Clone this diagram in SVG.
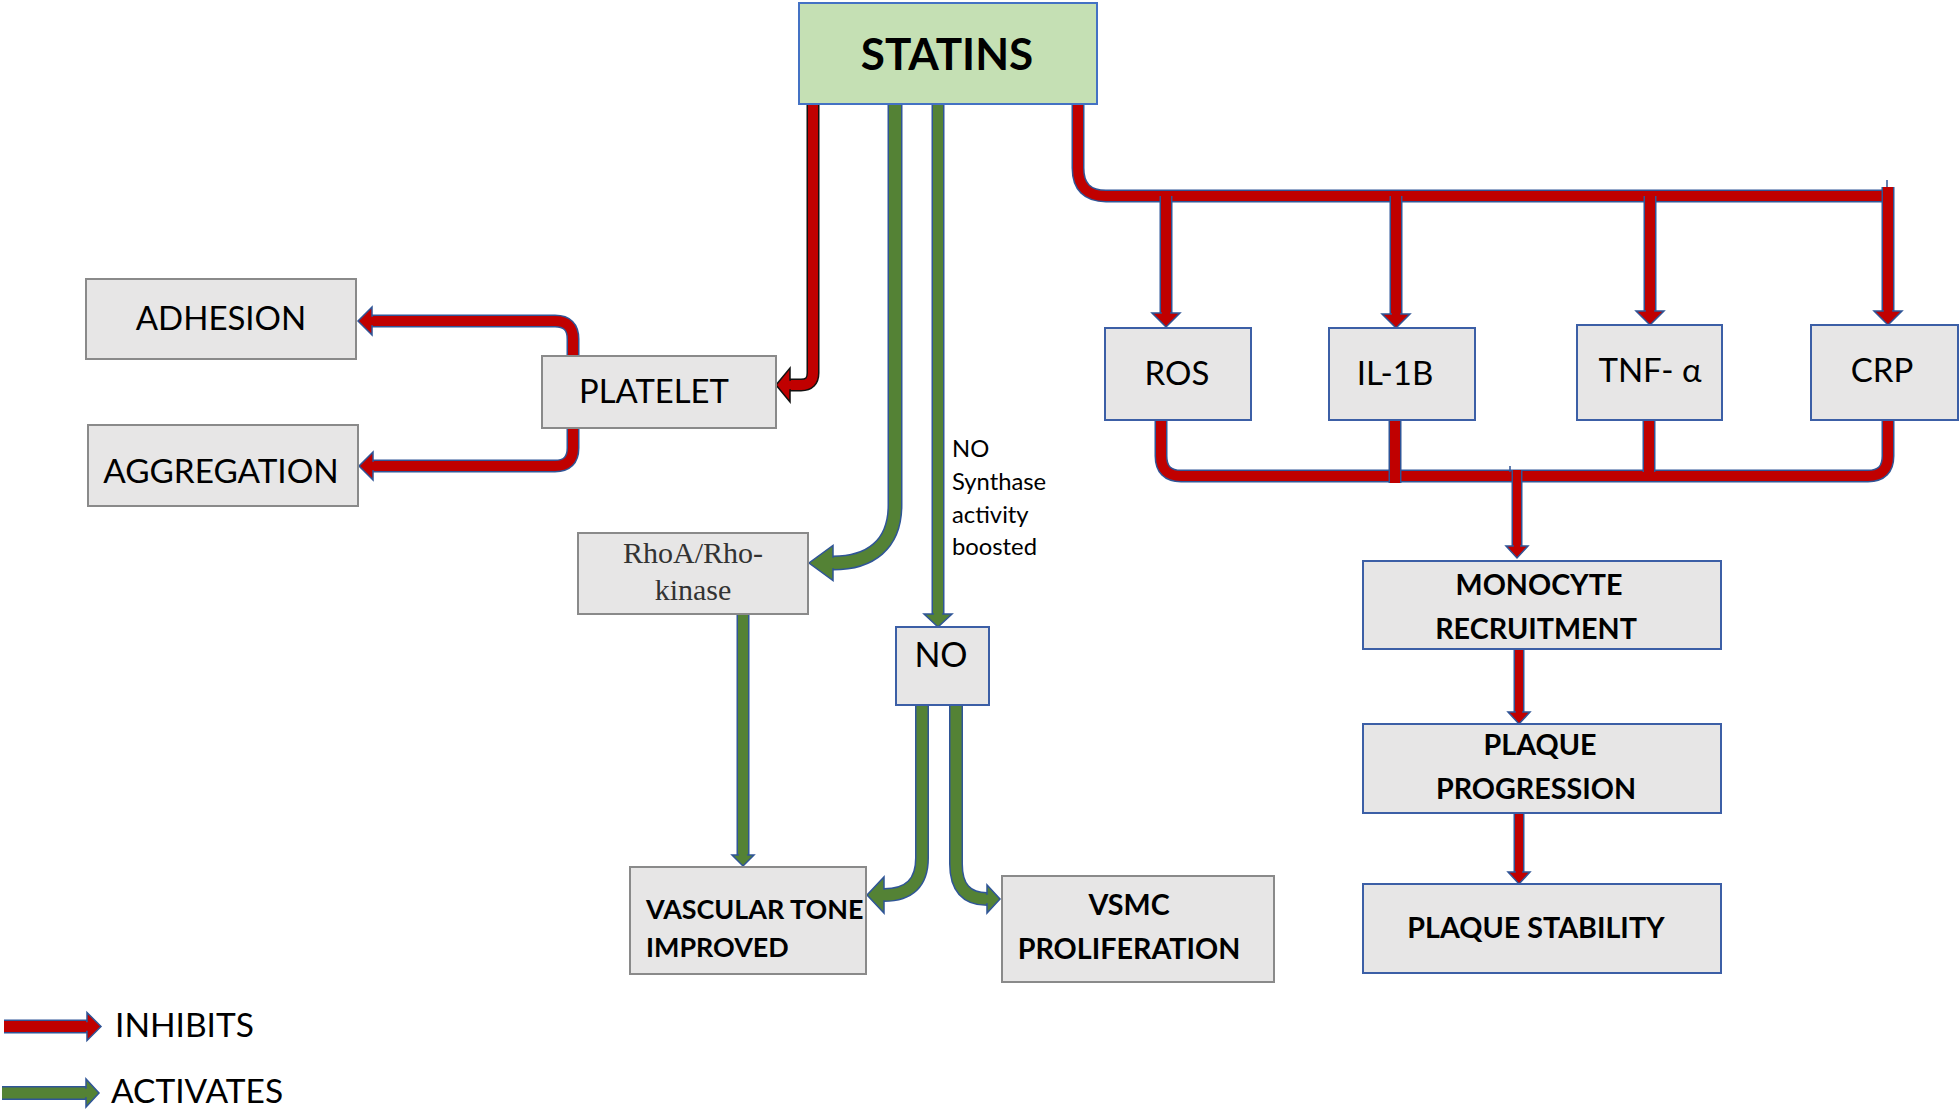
<svg xmlns="http://www.w3.org/2000/svg" width="1959" height="1110" viewBox="0 0 1959 1110">
<style>
.box{fill:#E7E6E6;stroke-width:2}
.bb{stroke:#3C5FA6}
.gb{stroke:#8A8A8A}
.t{font-family:Lato,"Liberation Sans",sans-serif;fill:#000}
.b{font-weight:bold}
.serif{font-family:"Liberation Serif",serif;fill:#333}
.ro,.rf,.go,.gf,.bo{fill:none}
.ro{stroke:#2F5597;stroke-width:13}
.rf{stroke:#C00000;stroke-width:10}
.bo{stroke:#111;stroke-width:13}
.go{stroke:#2F5597;stroke-width:13}
.gf{stroke:#548235;stroke-width:10}
.hr{fill:#C00000;stroke:#2F5597;stroke-width:1.5}
.hb{fill:#C00000;stroke:#111;stroke-width:1.5}
.hg{fill:#548235;stroke:#2F5597;stroke-width:1.5}
</style>
<defs>
<marker id="mr" markerUnits="userSpaceOnUse" markerWidth="30" markerHeight="30" refX="0" refY="0" orient="auto" overflow="visible"><path class="hr" d="M-1,-5 H0 V-14 L14,0 L0,14 V5 H-1"/></marker>
<marker id="mrs" markerUnits="userSpaceOnUse" markerWidth="30" markerHeight="30" refX="0" refY="0" orient="auto" overflow="visible"><path class="hr" d="M-1,-4 H0 V-11 L12,0 L0,11 V4 H-1"/></marker>
<marker id="mrb" markerUnits="userSpaceOnUse" markerWidth="30" markerHeight="30" refX="0" refY="0" orient="auto" overflow="visible"><path class="hb" d="M-1,-5 H0 V-17 L14,0 L0,17 V5 H-1"/></marker>
<marker id="mg" markerUnits="userSpaceOnUse" markerWidth="30" markerHeight="30" refX="0" refY="0" orient="auto" overflow="visible"><path class="hg" d="M-1,-5 H0 V-14 L13,0 L0,14 V5 H-1"/></marker>
<marker id="mgs" markerUnits="userSpaceOnUse" markerWidth="30" markerHeight="30" refX="0" refY="0" orient="auto" overflow="visible"><path class="hg" d="M-1,-5 H0 V-11 L11,0 L0,11 V5 H-1"/></marker>
<marker id="mgl" markerUnits="userSpaceOnUse" markerWidth="30" markerHeight="30" refX="0" refY="0" orient="auto" overflow="visible"><path class="hg" d="M-1,-6 H0 V-17.5 L24,0 L0,17.5 V6 H-1"/></marker>
<marker id="mgv" markerUnits="userSpaceOnUse" markerWidth="30" markerHeight="30" refX="0" refY="0" orient="auto" overflow="visible"><path class="hg" d="M-1,-6 H0 V-18 L17,0 L0,18 V6 H-1"/></marker>
</defs>

<g id="connectors">
  <!-- STATINS -> PLATELET -->
  <path class="bo" d="M813,104 V373 Q813,385 801,385 H790"/>
  <path class="rf" d="M813,104 V373 Q813,385 801,385 H790" marker-end="url(#mrb)"/>
  <!-- PLATELET -> ADHESION -->
  <path class="ro" d="M573,356 V339 Q573,321 555,321 H372"/>
  <path class="rf" d="M573,356 V339 Q573,321 555,321 H372" marker-end="url(#mr)"/>
  <!-- PLATELET -> AGGREGATION -->
  <path class="ro" d="M573,428 V448 Q573,466 555,466 H373"/>
  <path class="rf" d="M573,428 V448 Q573,466 555,466 H373" marker-end="url(#mr)"/>
  <!-- top bus -->
  <path class="ro" d="M1078,104 V168 Q1078,196 1106,196 H1882"/>
  <path class="rf" d="M1078,104 V168 Q1078,196 1106,196 H1882"/>
  <!-- drops -->
  <path class="ro" d="M1166,196 V313"/>
  <path class="rf" d="M1166,196 V313" marker-end="url(#mr)"/>
  <path class="ro" d="M1396,196 V314"/>
  <path class="rf" d="M1396,196 V314" marker-end="url(#mr)"/>
  <path class="ro" d="M1650,196 V311"/>
  <path class="rf" d="M1650,196 V311" marker-end="url(#mr)"/>
  <path class="ro" d="M1888,187 V311"/>
  <path class="rf" d="M1888,187 V311" marker-end="url(#mr)"/>
  <path d="M1887,180 V187" stroke="#2F5597" stroke-width="1.5"/>
  <!-- bottom bus -->
  <path class="ro" d="M1161,420 V456 Q1161,476 1181,476 H1868 Q1888,476 1888,456 V420"/>
  <path class="rf" d="M1161,420 V456 Q1161,476 1181,476 H1868 Q1888,476 1888,456 V420"/>
  <path class="ro" d="M1395,420 V483"/>
  <path class="rf" d="M1395,420 V483"/>
  <path class="ro" d="M1649,420 V472"/>
  <path class="rf" d="M1649,420 V472"/>
  <!-- bus -> MONOCYTE -->
  <path class="ro" d="M1517,470 V546" style="stroke-width:11"/>
  <path class="rf" d="M1517,470 V546" style="stroke-width:8" marker-end="url(#mrs)"/>
  <path d="M1510,466 V472" stroke="#2F5597" stroke-width="1.5"/>
  <!-- MONOCYTE -> PROGRESSION -->
  <path class="ro" d="M1519,649 V712" style="stroke-width:11"/>
  <path class="rf" d="M1519,649 V712" style="stroke-width:8" marker-end="url(#mrs)"/>
  <!-- PROGRESSION -> STABILITY -->
  <path class="ro" d="M1519,813 V872" style="stroke-width:11"/>
  <path class="rf" d="M1519,813 V872" style="stroke-width:8" marker-end="url(#mrs)"/>
  <!-- STATINS -> RhoA -->
  <path class="go" d="M895,104 V505 C895,545 870,563 833,563" style="stroke-width:15"/>
  <path class="gf" d="M895,104 V505 C895,545 870,563 833,563" style="stroke-width:12" marker-end="url(#mgl)"/>
  <!-- STATINS -> NO -->
  <path class="go" d="M938,104 V614"/>
  <path class="gf" d="M938,104 V614" marker-end="url(#mg)"/>
  <!-- RhoA -> VASCULAR -->
  <path class="go" d="M743,614 V855"/>
  <path class="gf" d="M743,614 V855" marker-end="url(#mgs)"/>
  <!-- NO -> VASCULAR -->
  <path class="go" d="M922,705 V858 Q922,895 884,895" style="stroke-width:14"/>
  <path class="gf" d="M922,705 V858 Q922,895 884,895" style="stroke-width:11" marker-end="url(#mgv)"/>
  <!-- NO -> VSMC -->
  <path class="go" d="M956,705 V864 Q956,899 987,899" style="stroke-width:14"/>
  <path class="gf" d="M956,705 V864 Q956,899 987,899" style="stroke-width:11" marker-end="url(#mg)"/>
</g>

<g id="legend">
  <path class="ro" d="M4,1026.5 H87" style="stroke-width:14"/>
  <path class="rf" d="M4,1026.5 H87" style="stroke-width:11" marker-end="url(#mr)"/>
  <text class="t" x="115" y="1037" font-size="33.5">INHIBITS</text>
  <path class="go" d="M2,1093 H86" style="stroke-width:14"/>
  <path class="gf" d="M2,1093 H86" style="stroke-width:11" marker-end="url(#mg)"/>
  <text class="t" x="111" y="1103" font-size="33.5">ACTIVATES</text>
</g>

<g id="statins">
  <rect x="799" y="3" width="298" height="101" fill="#C5E0B4" stroke="#4472C4" stroke-width="2"/>
  <text class="t b" x="947" y="70" font-size="44" text-anchor="middle">STATINS</text>
</g>
<g id="adhesion">
  <rect class="box gb" x="86" y="279" width="270" height="80"/>
  <text class="t" x="221" y="330" font-size="33" text-anchor="middle">ADHESION</text>
</g>
<g id="aggregation">
  <rect class="box gb" x="88" y="425" width="270" height="81"/>
  <text class="t" x="221" y="483" font-size="33.3" text-anchor="middle">AGGREGATION</text>
</g>
<g id="platelet">
  <rect class="box gb" x="542" y="356" width="234" height="72"/>
  <text class="t" x="654" y="403" font-size="32.8" text-anchor="middle">PLATELET</text>
</g>
<g id="rhoa">
  <rect class="box gb" x="578" y="533" width="230" height="81"/>
  <text class="serif" x="693" y="563" font-size="30" text-anchor="middle">RhoA/Rho-</text>
  <text class="serif" x="693" y="600" font-size="30" text-anchor="middle">kinase</text>
</g>
<g id="no">
  <rect class="box bb" x="896" y="627" width="93" height="78"/>
  <text class="t" x="941" y="667" font-size="34" text-anchor="middle">NO</text>
</g>
<g id="no-label">
  <text class="t" x="952" y="457" font-size="23.8">NO</text>
  <text class="t" x="952" y="490" font-size="23.8">Synthase</text>
  <text class="t" x="952" y="523" font-size="23.8">activity</text>
  <text class="t" x="952" y="555" font-size="23.8">boosted</text>
</g>
<g id="vascular">
  <rect class="box gb" x="630" y="867" width="236" height="107"/>
  <text class="t b" x="646" y="919" font-size="26.9">VASCULAR TONE</text>
  <text class="t b" x="646" y="957" font-size="26.9">IMPROVED</text>
</g>
<g id="vsmc">
  <rect class="box gb" x="1002" y="876" width="272" height="106"/>
  <text class="t b" x="1129" y="915" font-size="28.7" text-anchor="middle">VSMC</text>
  <text class="t b" x="1129" y="959" font-size="28.7" text-anchor="middle">PROLIFERATION</text>
</g>
<g id="ros">
  <rect class="box bb" x="1105" y="328" width="146" height="92"/>
  <text class="t" x="1177" y="385" font-size="33" text-anchor="middle">ROS</text>
</g>
<g id="il1b">
  <rect class="box bb" x="1329" y="328" width="146" height="92"/>
  <text class="t" x="1395" y="385" font-size="33" text-anchor="middle">IL-1B</text>
</g>
<g id="tnf">
  <rect class="box bb" x="1577" y="325" width="145" height="95"/>
  <text class="t" x="1650" y="382" font-size="33" text-anchor="middle">TNF- α</text>
</g>
<g id="crp">
  <rect class="box bb" x="1811" y="325" width="147" height="95"/>
  <text class="t" x="1882" y="382" font-size="33" text-anchor="middle">CRP</text>
</g>
<g id="monocyte">
  <rect class="box bb" x="1363" y="561" width="358" height="88"/>
  <text class="t b" x="1539" y="595" font-size="28.7" text-anchor="middle">MONOCYTE</text>
  <text class="t b" x="1536" y="639" font-size="28.7" text-anchor="middle">RECRUITMENT</text>
</g>
<g id="progression">
  <rect class="box bb" x="1363" y="724" width="358" height="89"/>
  <text class="t b" x="1540" y="755" font-size="28.7" text-anchor="middle">PLAQUE</text>
  <text class="t b" x="1536" y="799" font-size="28.7" text-anchor="middle">PROGRESSION</text>
</g>
<g id="stability">
  <rect class="box bb" x="1363" y="884" width="358" height="89"/>
  <text class="t b" x="1536" y="938" font-size="28.7" text-anchor="middle">PLAQUE STABILITY</text>
</g>
</svg>
